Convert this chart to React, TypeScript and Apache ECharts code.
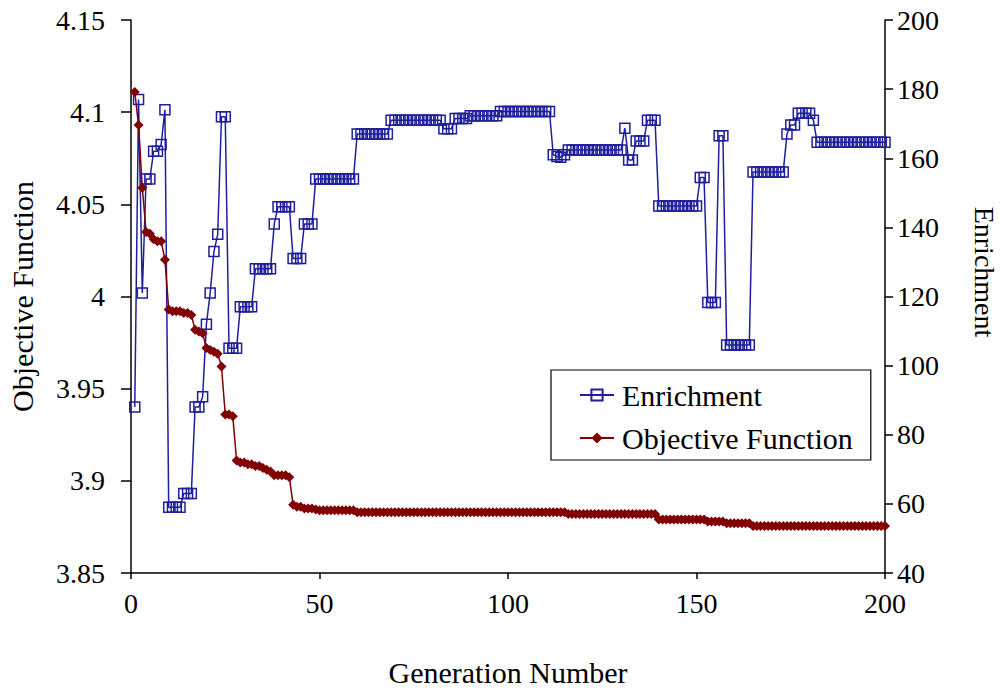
import React, { useEffect, useRef } from "react";
import * as echarts from "echarts";

// Generation numbers run 1..200 (one point per generation)
const firstGeneration = 1;

const enrichment: number[] = [
  88, 177, 121, 154, 154, 162, 162, 164, 174, 59,
  59, 59, 59, 63, 63, 63, 88, 88, 91, 112,
  121, 133, 138, 172, 172, 105, 105, 105, 117, 117,
  117, 117, 128, 128, 128, 128, 128, 141, 146, 146,
  146, 146, 131, 131, 131, 141, 141, 141, 154, 154,
  154, 154, 154, 154, 154, 154, 154, 154, 154, 167,
  167, 167, 167, 167, 167, 167, 167, 167, 171, 171,
  171, 171, 171, 171, 171, 171, 171, 171, 171, 171,
  171, 171, 168.5, 168.5, 168.5, 171.5, 171.5, 171.5, 171.5, 172.3,
  172.3, 172.3, 172.3, 172.3, 172.3, 172.3, 172.3, 173.5, 173.5, 173.5,
  173.5, 173.5, 173.5, 173.5, 173.5, 173.5, 173.5, 173.5, 173.5, 173.5,
  173.5, 161, 160.5, 160.3, 161, 162.4, 162.4, 162.4, 162.4, 162.4,
  162.4, 162.4, 162.4, 162.4, 162.4, 162.4, 162.4, 162.4, 162.4, 162.4,
  168.7, 159.5, 159.5, 165, 165, 165, 171, 171, 171, 146.2,
  146.2, 146.2, 146.2, 146.2, 146.2, 146.2, 146.2, 146.2, 146.2, 146.2,
  154.4, 154.4, 118.3, 118.3, 118.3, 166.5, 166.5, 106, 106, 106,
  106, 106, 106, 106, 156, 156, 156, 156, 156, 156,
  156, 156, 156, 167, 169.6, 169.6, 173, 173, 173, 173,
  171, 164.6, 164.6, 164.6, 164.6, 164.6, 164.6, 164.6, 164.6, 164.6,
  164.6, 164.6, 164.6, 164.6, 164.6, 164.6, 164.6, 164.6, 164.6, 164.6,
];

const objective: number[] = [
  4.111, 4.093, 4.059, 4.035, 4.034, 4.031, 4.03, 4.03, 4.02, 3.993,
  3.992, 3.992, 3.992, 3.991, 3.991, 3.99, 3.982, 3.981, 3.98, 3.972,
  3.971, 3.97, 3.969, 3.962, 3.936, 3.936, 3.935, 3.911, 3.91, 3.91,
  3.909, 3.909, 3.908, 3.908, 3.907, 3.906, 3.905, 3.903, 3.903, 3.903,
  3.903, 3.902, 3.887, 3.886, 3.886, 3.885, 3.885, 3.885, 3.8845, 3.884,
  3.884, 3.884, 3.884, 3.884, 3.884, 3.884, 3.884, 3.884, 3.884, 3.883,
  3.883, 3.883, 3.883, 3.883, 3.883, 3.883, 3.883, 3.883, 3.883, 3.883,
  3.883, 3.883, 3.883, 3.883, 3.883, 3.883, 3.883, 3.883, 3.883, 3.883,
  3.883, 3.883, 3.883, 3.883, 3.883, 3.883, 3.883, 3.883, 3.883, 3.883,
  3.883, 3.883, 3.883, 3.883, 3.883, 3.883, 3.883, 3.883, 3.883, 3.883,
  3.883, 3.883, 3.883, 3.883, 3.883, 3.883, 3.883, 3.883, 3.883, 3.883,
  3.883, 3.883, 3.883, 3.883, 3.883, 3.882, 3.882, 3.882, 3.882, 3.882,
  3.882, 3.882, 3.882, 3.882, 3.882, 3.882, 3.882, 3.882, 3.882, 3.882,
  3.882, 3.882, 3.882, 3.882, 3.882, 3.882, 3.882, 3.882, 3.882, 3.879,
  3.879, 3.879, 3.879, 3.879, 3.879, 3.879, 3.879, 3.879, 3.879, 3.879,
  3.879, 3.879, 3.878, 3.878, 3.878, 3.878, 3.878, 3.877, 3.877, 3.877,
  3.877, 3.877, 3.877, 3.877, 3.8755, 3.8755, 3.8755, 3.8755, 3.8755, 3.8755,
  3.8755, 3.8755, 3.8755, 3.8755, 3.8755, 3.8755, 3.8755, 3.8755, 3.8755, 3.8755,
  3.8755, 3.8755, 3.8755, 3.8755, 3.8755, 3.8755, 3.8755, 3.8755, 3.8755, 3.8755,
  3.8755, 3.8755, 3.8755, 3.8755, 3.8755, 3.8755, 3.8755, 3.8755, 3.8755, 3.8755,
];

const xAxisRange = { min: 0, max: 200, interval: 50 };
const leftAxisRange = { min: 3.85, max: 4.15, interval: 0.05 };
const rightAxisRange = { min: 40, max: 200, interval: 20 };

const FONT = "'Liberation Serif', 'Times New Roman', serif";
const BLUE = "#1f1f9c";
const RED = "#800000";

export default function App() {
  const ref = useRef<HTMLDivElement>(null);

  useEffect(() => {
    if (!ref.current) return;
    const chart = echarts.init(ref.current, undefined, { renderer: "svg" });

    const enrichData = enrichment.map((v, i) => [firstGeneration + i, v]);
    const objData = objective.map((v, i) => [firstGeneration + i, v]);

    const axisLine = { show: true, lineStyle: { color: "#000", width: 1.5 } };
    const labelStyle = { color: "#000", fontFamily: FONT, fontSize: 28 };
    const nameStyle = { color: "#000", fontFamily: FONT, fontSize: 30 };

    chart.setOption({
      animation: false,
      backgroundColor: "#fff",
      textStyle: { fontFamily: FONT },
      grid: {
        left: 131,
        right: 116,
        top: 20,
        bottom: 118,
        containLabel: false,
        outerBoundsMode: "none",
      },
      legend: {
        orient: "vertical",
        left: 551,
        top: 370,
        backgroundColor: "#fff",
        borderColor: "#000",
        borderWidth: 1.2,
        borderRadius: 0,
        padding: [10, 18, 7, 28],
        itemGap: 13,
        itemWidth: 34,
        itemHeight: 14,
        textStyle: { color: "#000", fontFamily: FONT, fontSize: 30, padding: [0, 0, 0, 3] },
        data: ["Enrichment", "Objective Function"],
      },
      graphic: [
        {
          type: "text",
          x: 984,
          y: 272,
          rotation: -Math.PI / 2,
          style: {
            text: "Enrichment",
            fill: "#000",
            font: `28px ${FONT}`,
            align: "center",
            verticalAlign: "middle",
          },
        },
      ],
      xAxis: {
        type: "value",
        ...xAxisRange,
        name: "Generation Number",
        nameLocation: "middle",
        nameGap: 84,
        nameTextStyle: nameStyle,
        axisLine,
        axisTick: { show: true, inside: false, length: 6, lineStyle: { color: "#000", width: 1.5 } },
        axisLabel: { ...labelStyle, margin: 16 },
        splitLine: { show: false },
      },
      yAxis: [
        {
          type: "value",
          ...leftAxisRange,
          position: "left",
          name: "Objective Function",
          nameLocation: "middle",
          nameGap: 94,
          nameTextStyle: nameStyle,
          axisLine,
          axisTick: { show: true, length: 10, lineStyle: { color: "#000", width: 1.5 } },
          axisLabel: { ...labelStyle, margin: 26 },
          splitLine: { show: false },
        },
        {
          type: "value",
          ...rightAxisRange,
          position: "right",
          axisLine,
          axisTick: { show: true, length: 8, lineStyle: { color: "#000", width: 1.5 } },
          axisLabel: { ...labelStyle, margin: 12 },
          splitLine: { show: false },
        },
      ],
      series: [
        {
          name: "Enrichment",
          type: "line",
          yAxisIndex: 1,
          data: enrichData,
          symbol: "rect",
          symbolSize: 10,
          showAllSymbol: true,
          lineStyle: { color: BLUE, width: 1.5 },
          itemStyle: { color: "rgba(255,255,255,0)", borderColor: BLUE, borderWidth: 1.5 },
          emphasis: { disabled: true },
        },
        {
          name: "Objective Function",
          type: "line",
          yAxisIndex: 0,
          data: objData,
          symbol: "diamond",
          symbolSize: 10,
          showAllSymbol: true,
          lineStyle: { color: RED, width: 1.5 },
          itemStyle: { color: RED },
          emphasis: { disabled: true },
        },
      ],
    });

    return () => chart.dispose();
  }, []);

  return (
    <div
      ref={ref}
      style={{ position: "fixed", left: 0, top: 0, width: 1001, height: 691, background: "#fff" }}
    />
  );
}
